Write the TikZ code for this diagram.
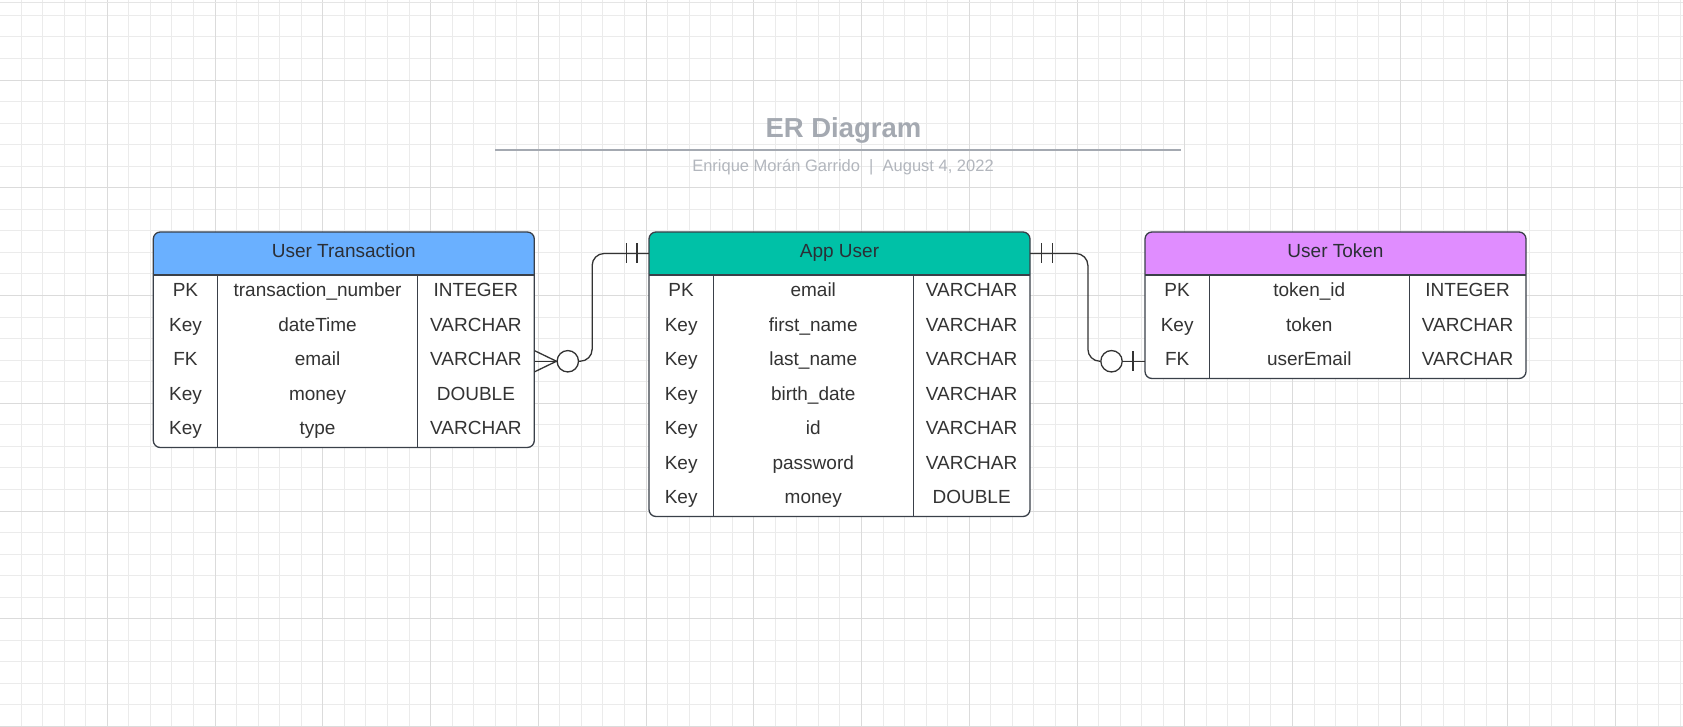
\documentclass[tikz,border=0pt]{standalone}
\usepackage{fontspec}
\setmainfont{Liberation Sans}
\usetikzlibrary{calc}
\begin{document}
\begin{tikzpicture}[x=1pt,y=-1pt,
  gridminor/.style={draw=black!8,line width=0.9pt},
  gridmajor/.style={draw=black!14,line width=0.9pt},
  border/.style={draw=bordercol,line width=1.3pt},
  conn/.style={draw=conncol,line width=1.3pt},
  hdr/.style={inner sep=0pt,minimum width=381pt,minimum height=43pt,text=hdrtext,font=\fontsize{19}{22}\selectfont},
  cell/.style={inner sep=0pt,text=celltext,font=\fontsize{19}{22}\selectfont},
  rowbox/.style={inner sep=0pt,minimum width=381pt,minimum height=34.5pt},
  crowcircle/.style={circle,draw=conncol,line width=1.3pt,fill=white,minimum size=21.4pt,inner sep=0pt},
]
\definecolor{bordercol}{HTML}{3A4049}
\definecolor{conncol}{HTML}{333333}
\definecolor{hdrtext}{HTML}{2B2F36}
\definecolor{celltext}{HTML}{333333}
\definecolor{utblue}{HTML}{6AB0FF}
\definecolor{auteal}{HTML}{00C1A7}
\definecolor{tkpurple}{HTML}{E08DFF}
\definecolor{titlegray}{HTML}{A4A9B1}
\definecolor{subgray}{HTML}{B2B6BD}

\useasboundingbox (0,0) rectangle (1683,727);
\fill[white] (0,0) rectangle (1683,727);
% grid
\foreach \m in {1,...,78} {\draw[gridminor] ({21.548*\m-0.44},0) -- ({21.548*\m-0.44},727);}
\foreach \m in {-3,...,30} {\draw[gridminor] (0,{80+21.548*\m}) -- (1683,{80+21.548*\m});}
\foreach \m in {5,10,...,75} {\draw[gridmajor] ({21.548*\m-0.44},0) -- ({21.548*\m-0.44},727);}
\foreach \m in {0,5,10,...,30} {\draw[gridmajor] (0,{80+21.548*\m}) -- (1683,{80+21.548*\m});}
\draw[draw=black!10,line width=1pt] (0,3) -- (1683,3);

% title
\node[anchor=base,text=titlegray,font=\fontsize{27.5}{30}\selectfont\bfseries] (title) at (843.5,137.7) {ER Diagram};
\coordinate (tlA) at (495,150);
\coordinate (tlB) at (1181,150);
\draw[draw=titlegray,line width=2pt] (tlA) -- (tlB);
\node[anchor=base,text=subgray,font=\fontsize{16.5}{20}\selectfont] (subtitle) at (843,171.5) {Enrique Morán Garrido\ \ |\ \ August 4, 2022};

\newcommand\ertable[6]{%
  \pgfmathsetmacro\tb{275+34.5*#3}
  \fill[white,rounded corners=7] (#2,232) rectangle (#2+381,\tb);
  \fill[#4] (#2,275) [rounded corners=7]-- (#2,232) -- (#2+381,232) [sharp corners]-- (#2+381,275) -- cycle;
  \node[hdr] (#1-h) at (#2+190.5,253.5) {\strut #5};
  \foreach [count=\i] \k/\f/\t in {#6} {
    \node[rowbox] (#1-r\i) at (#2+190.5,{275+34.5*\i-17.25}) {};
    \node[cell] (#1-k\i) at (#2+32.15,{275+34.5*\i-17.25}) {\strut\k};
    \node[cell] (#1-f\i) at (#2+164.25,{275+34.5*\i-17.25}) {\strut\f};
    \node[cell] (#1-t\i) at (#2+322.6,{275+34.5*\i-17.25}) {\strut\t};
  }
  \draw[border] (#2,275) -- (#2+381,275);
  \draw[border] (#2+64.3,275) -- (#2+64.3,\tb);
  \draw[border] (#2+264.2,275) -- (#2+264.2,\tb);
  \draw[border,rounded corners=7] (#2,232) rectangle (#2+381,\tb);
}

\ertable{ut}{153.3}{5}{utblue}{User Transaction}{PK/transaction\_number/INTEGER, Key/dateTime/VARCHAR, FK/email/VARCHAR, Key/money/DOUBLE, Key/type/VARCHAR}
\ertable{au}{649}{7}{auteal}{App User}{PK/email/VARCHAR, Key/first\_name/VARCHAR, Key/last\_name/VARCHAR, Key/birth\_date/VARCHAR, Key/id/VARCHAR, Key/password/VARCHAR, Key/money/DOUBLE}
\ertable{tk}{1145}{3}{tkpurple}{User Token}{PK/token\_id/INTEGER, Key/token/VARCHAR, FK/userEmail/VARCHAR}

% connector: User Transaction (many, optional) -- App User (one and only one)
\node[crowcircle] (c1o) at ($(ut-r3.east)+(33.3,0)$) {};
\draw[conn] ($(ut-r3.east)+(0,-10.6)$) -- (c1o.west) -- ($(ut-r3.east)+(0,10.6)$);
\draw[conn] (ut-r3.east) -- (c1o.west);
\draw[conn,rounded corners=12] (c1o.east) -- ++(13,0) |- (au-h.west);
\draw[conn] ($(au-h.west)+(-22.3,-10)$) -- ++(0,20);
\draw[conn] ($(au-h.west)+(-11.7,-10)$) -- ++(0,20);

% connector: App User (one and only one) -- User Token (zero or one)
\node[crowcircle] (c2o) at ($(tk-r3.west)+(-33.3,0)$) {};
\draw[conn,rounded corners=12] (au-h.east) -- ++(57.7,0) |- (c2o.west);
\draw[conn] (c2o.east) -- (tk-r3.west);
\draw[conn] ($(au-h.east)+(11,-10)$) -- ++(0,20);
\draw[conn] ($(au-h.east)+(22.3,-10)$) -- ++(0,20);
\draw[conn] ($(tk-r3.west)+(-11.7,-10)$) -- ++(0,20);
\end{tikzpicture}
\end{document}
